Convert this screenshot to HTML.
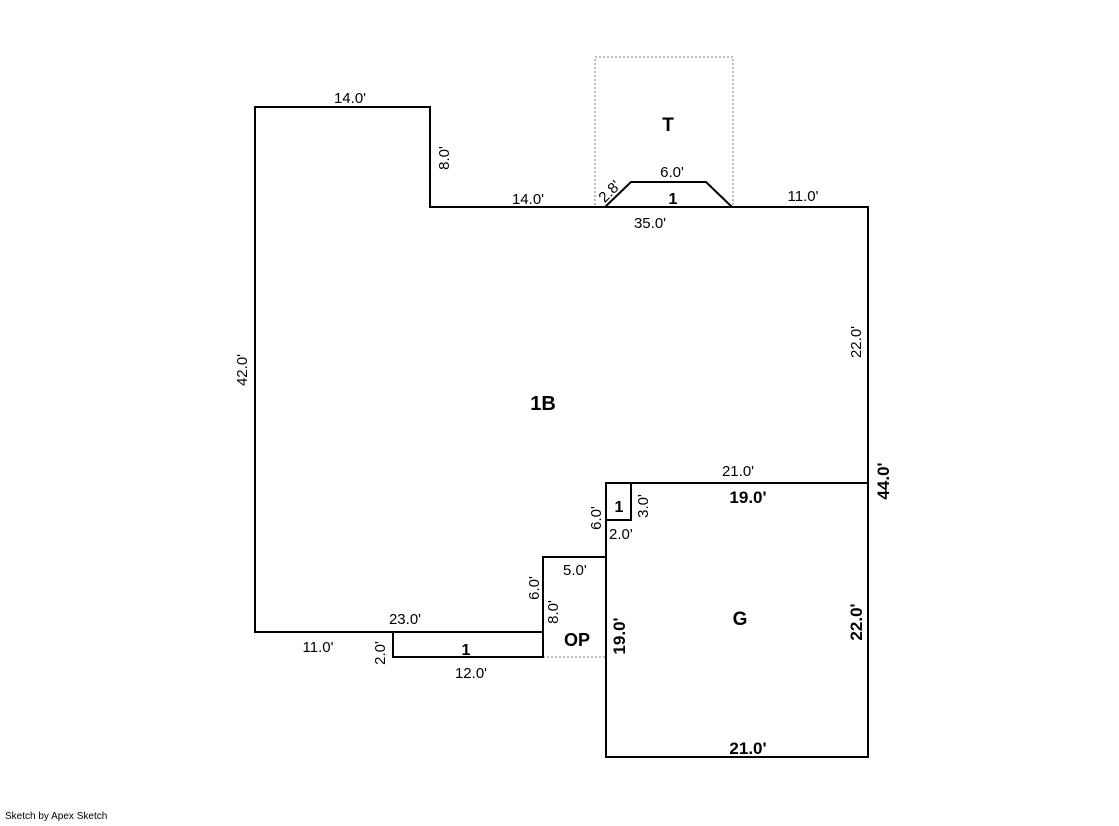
<!DOCTYPE html>
<html><head><meta charset="utf-8"><style>
html,body{margin:0;padding:0;background:#fff;}
svg text{font-family:"Liberation Sans",Arial,sans-serif;fill:#000;}
</style></head><body>
<svg width="1119" height="821" viewBox="0 0 1119 821" xmlns="http://www.w3.org/2000/svg">
<g fill="none" stroke="#999" stroke-width="1.3" stroke-dasharray="2,2">
<rect x="595" y="57" width="138" height="150"/>
<line x1="543" y1="657" x2="606" y2="657"/>
</g>
<g fill="none" stroke="#000" stroke-width="2">
<polyline points="543,632 255,632 255,107 430,107 430,207 868,207 868,483"/>
<rect x="606" y="483" width="262" height="274"/>
<polyline points="606,557 543,557 543,657 393,657 393,632"/>
<rect x="606" y="483" width="25" height="37"/>
<polyline points="605,207 631,182 706,182 732,207"/>
</g>
<g font-size="15">
<text x="350" y="103" text-anchor="middle">14.0'</text>
<text x="528" y="204" text-anchor="middle">14.0'</text>
<text x="672" y="177" text-anchor="middle">6.0'</text>
<text x="650" y="228" text-anchor="middle">35.0'</text>
<text x="803" y="201" text-anchor="middle">11.0'</text>
<text x="738" y="476" text-anchor="middle">21.0'</text>
<text x="609" y="539">2.0'</text>
<text x="563" y="575">5.0'</text>
<text x="405" y="624" text-anchor="middle">23.0'</text>
<text x="318" y="652" text-anchor="middle">11.0'</text>
<text x="471" y="678" text-anchor="middle">12.0'</text>
<text transform="translate(449,158) rotate(-90)" text-anchor="middle">8.0'</text>
<text transform="translate(247,370) rotate(-90)" text-anchor="middle">42.0'</text>
<text transform="translate(861,342) rotate(-90)" text-anchor="middle">22.0'</text>
<text transform="translate(601,518) rotate(-90)" text-anchor="middle">6.0'</text>
<text transform="translate(648,506) rotate(-90)" text-anchor="middle">3.0'</text>
<text transform="translate(539,588) rotate(-90)" text-anchor="middle">6.0'</text>
<text transform="translate(558,612) rotate(-90)" text-anchor="middle">8.0'</text>
<text transform="translate(385,653) rotate(-90)" text-anchor="middle">2.0'</text>
<text transform="translate(613,195) rotate(-45)" text-anchor="middle">2.8'</text>
</g>
<g font-size="17" font-weight="600">
<text x="748" y="503" text-anchor="middle">19.0'</text>
<text x="748" y="754" text-anchor="middle">21.0'</text>
<text transform="translate(889,481) rotate(-90)" text-anchor="middle">44.0'</text>
<text transform="translate(862,622) rotate(-90)" text-anchor="middle">22.0'</text>
<text transform="translate(625,636) rotate(-90)" text-anchor="middle">19.0'</text>
</g>
<g font-weight="bold">
<text x="668" y="131" font-size="19" text-anchor="middle">T</text>
<text x="543" y="410" font-size="20" text-anchor="middle">1B</text>
<text x="740" y="625" font-size="19" text-anchor="middle">G</text>
<text x="577" y="646" font-size="18" text-anchor="middle">OP</text>
<text x="673" y="204" font-size="16" text-anchor="middle">1</text>
<text x="619" y="512" font-size="16" text-anchor="middle">1</text>
<text x="466" y="655" font-size="16" text-anchor="middle">1</text>
</g>
<text x="5" y="819" font-size="10">Sketch by Apex Sketch</text>
</svg>
</body></html>
